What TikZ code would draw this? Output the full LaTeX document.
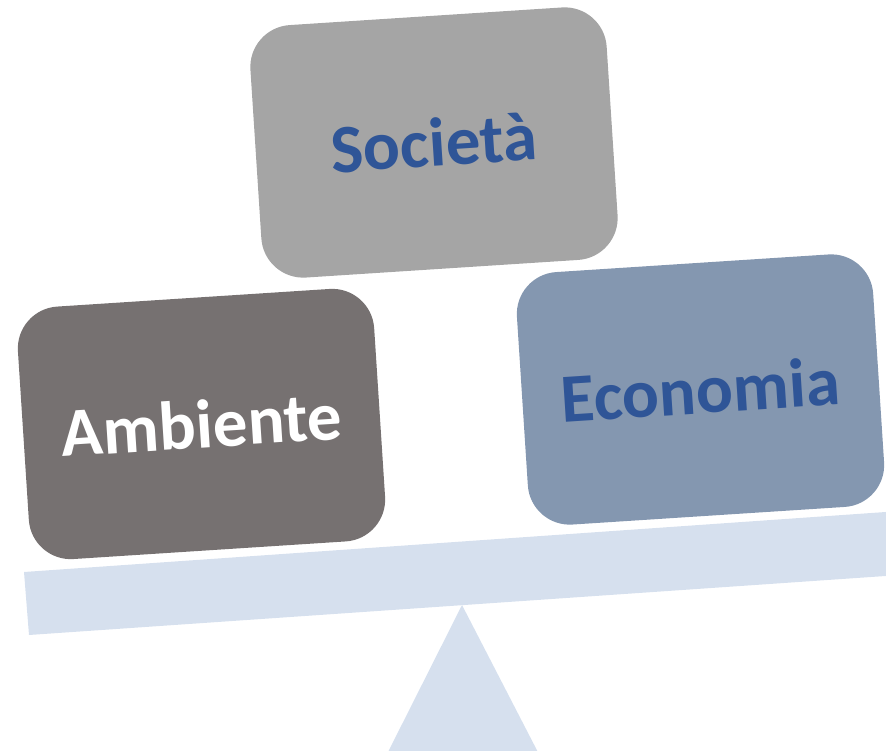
\documentclass[tikz,border=0pt]{standalone}
\usepackage{fontspec}
\setmainfont{Carlito}
\definecolor{ambc}{HTML}{767171}
\definecolor{socc}{HTML}{A5A5A5}
\definecolor{ecoc}{HTML}{8497B0}
\definecolor{beamc}{HTML}{D6E0EE}
\definecolor{txtblue}{HTML}{2F5597}
\begin{document}
\begin{tikzpicture}[x=1pt,y=-1pt,
  card/.style={rectangle, rounded corners=42pt, minimum width=357pt, minimum height=253pt,
    rotate=3.7, inner sep=0pt, font=\fontsize{69}{72}\selectfont\bfseries}]
\useasboundingbox (0,0) rectangle (886,751);
\begin{scope}
\clip (0,0) rectangle (886,751);
\fill[beamc] (24,572) -- (900,511) -- (900,575) -- (29,635) -- cycle;
\fill[beamc] (462,605) -- (384,760) -- (542,760) -- cycle;
\end{scope}
\node[card, fill=ambc, text=white] (amb) at (201.5,424) {Ambiente};
\node[card, fill=socc, text=txtblue] (soc) at (434,142.5) {Società};
\node[card, fill=ecoc, text=txtblue] (eco) at (700.5,389.5) {Economia};
\end{tikzpicture}
\end{document}
